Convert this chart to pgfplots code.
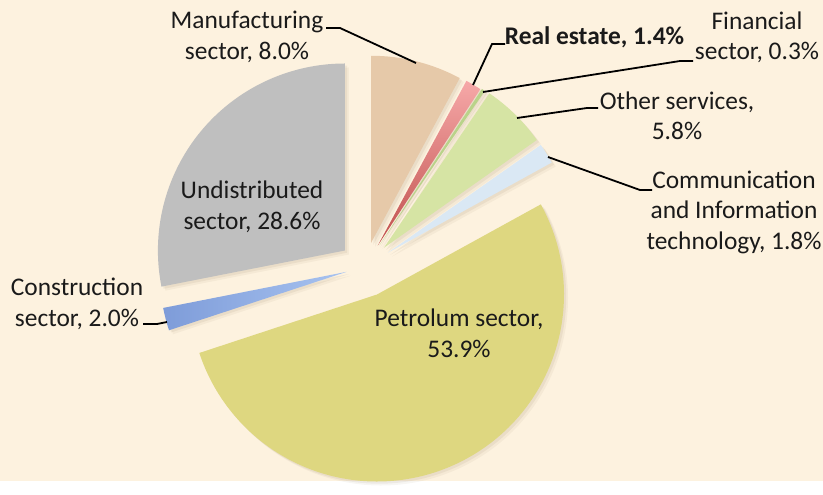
\documentclass[border=0pt]{standalone}
\usepackage{pgfplots}
\pgfplotsset{compat=1.18}
\usepackage{pgfplotstable}
\usepackage{fontspec}
\setmainfont{Carlito}

\definecolor{bg}{HTML}{FDF2DF}
\definecolor{manu}{HTML}{E6C9A9}
\definecolor{reA}{HTML}{F6A8A8}
\definecolor{reB}{HTML}{C0504D}
\definecolor{fin}{HTML}{B9D38A}
\definecolor{oth}{HTML}{D6E4A4}
\definecolor{com}{HTML}{DAE8F4}
\definecolor{pet}{HTML}{DED780}
\definecolor{conA}{HTML}{7E9CD9}
\definecolor{conB}{HTML}{A8C3F0}
\definecolor{und}{HTML}{BFBFBF}
\definecolor{txt}{HTML}{1A1A1A}
\definecolor{shd}{HTML}{8C7A5C}

\pgfplotstableread[col sep=comma]{
sector,value,explode
Manufacturing,8.0,25
Real estate,1.4,25
Financial,0.3,26
Other services,5.8,27
Communication,1.8,27
Petroleum,53.9,30
Construction,2.0,19
Undistributed,28.6,26
}\piedata

\tikzset{
  slice0/.style={fill=manu},
  slice1/.style={top color=reA, bottom color=reB},
  slice2/.style={fill=fin},
  slice3/.style={fill=oth},
  slice4/.style={fill=com},
  slice5/.style={fill=pet},
  slice6/.style={left color=conA, right color=conB},
  slice7/.style={fill=und},
  lab/.style={font=\fontsize{12.7}{15.25}\selectfont, text=txt, align=center, inner sep=0pt},
  lead/.style={line width=0.9pt, black}
}

\begin{document}
\begin{tikzpicture}
\begin{axis}[x=0.5pt, y=0.5pt, disabledatascaling,
  xmin=0, xmax=823, ymin=0, ymax=481, hide axis, clip=false]
\addplot[draw=none, fill=bg] coordinates {(0,0) (823,0) (823,481) (0,481)} -- cycle;
\pgfplotsextra{
  \pgfmathsetmacro{\pieTot}{0}
  \pgfplotsforeachungrouped \i in {0,...,7}{%
    \pgfplotstablegetelem{\i}{value}\of\piedata
    \pgfmathsetmacro{\pieTot}{\pieTot+\pgfplotsretval}%
  }
  \pgfmathsetmacro{\pieAng}{90}
  \pgfplotsforeachungrouped \i in {0,...,7}{%
    \pgfplotstablegetelem{\i}{value}\of\piedata
    \pgfmathsetmacro{\pieSw}{(360/\pieTot)*\pgfplotsretval}%
    \pgfplotstablegetelem{\i}{explode}\of\piedata
    \pgfmathsetmacro{\pieEx}{\pgfplotsretval}%
    \pgfmathsetmacro{\pieMid}{\pieAng-\pieSw/2}%
    \pgfmathsetmacro{\pieEnd}{\pieAng-\pieSw}%
    \pgfmathsetmacro{\piePx}{365+\pieEx*cos(\pieMid)}%
    \pgfmathsetmacro{\piePy}{214+\pieEx*sin(\pieMid)}%
    \path[fill=shd, opacity=0.07] (axis cs:\piePx,\piePy) ++(2pt,-2pt) -- ++(\pieAng:93.5pt)
      arc[start angle=\pieAng, end angle=\pieEnd, radius=93.5pt] -- cycle;
    \path[fill=shd, opacity=0.10] (axis cs:\piePx,\piePy) ++(1.1pt,-1.1pt) -- ++(\pieAng:93.5pt)
      arc[start angle=\pieAng, end angle=\pieEnd, radius=93.5pt] -- cycle;
    \path[slice\i] (axis cs:\piePx,\piePy) -- ++(\pieAng:93.5pt)
      arc[start angle=\pieAng, end angle=\pieEnd, radius=93.5pt] -- cycle;
    \pgfmathsetmacro{\pieAng}{\pieEnd}%
  }
  % leader lines
  \draw[lead] (axis cs:326,453) -- (axis cs:340,453) -- (axis cs:416,418);
  \draw[lead] (axis cs:505,437) -- (axis cs:492,437) -- (axis cs:473,396);
  \draw[lead] (axis cs:693,420) -- (axis cs:680,420) -- (axis cs:483,389);
  \draw[lead] (axis cs:598,373) -- (axis cs:587,373) -- (axis cs:517,363);
  \draw[lead] (axis cs:652,291) -- (axis cs:640,291) -- (axis cs:548,324);
  \draw[lead] (axis cs:143,157) -- (axis cs:157,157) -- (axis cs:167,159);
  % labels
  \node[lab] at (axis cs:247,444) {Manufacturing\\sector, 8.0\%};
  \node[lab, font=\fontsize{12.7}{15.25}\selectfont\bfseries] at (axis cs:594.5,444) {Real estate, 1.4\%};
  \node[lab] at (axis cs:757,443.5) {Financial\\sector, 0.3\%};
  \node[lab] at (axis cs:677,365) {Other services,\\5.8\%};
  \node[lab] at (axis cs:734,269) {Communication\\and Information\\technology, 1.8\%};
  \node[lab] at (axis cs:77,177) {Construction\\sector, 2.0\%};
  \node[lab] at (axis cs:252,274) {Undistributed\\sector, 28.6\%};
  \node[lab] at (axis cs:459,147.5) {Petrolum sector,\\53.9\%};
}
\end{axis}
\end{tikzpicture}
\end{document}
